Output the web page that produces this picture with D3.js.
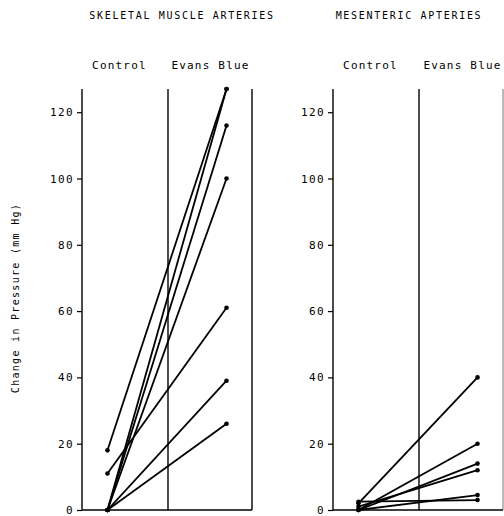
<!DOCTYPE html>
<html>
<head>
<meta charset="utf-8">
<script src="https://cdn.jsdelivr.net/npm/d3@7"></script>
<style>
  body { margin: 0; background: #fff; }
  svg text { font-family: "DejaVu Sans Mono", "Liberation Mono", monospace; fill: #000; }
</style>
</head>
<body>
<svg id="chart" width="504" height="516"></svg>
<script>
// ---- data ----
const groups = ["Control", "Evans Blue"];
const panelTitles = ["SKELETAL MUSCLE ARTERIES", "MESENTERIC APTERIES"];
const yTicks = [0, 20, 40, 60, 80, 100, 120];
const yLabel = "Change in Pressure (mm Hg)";

// skeletal muscle arteries: control -> Evans Blue
const skeletalControl = [18, 0, 0, 0, 11, 0, 0];
const skeletalEvans   = [127, 127, 116, 100, 61, 39, 26];

// mesenteric arteries: control -> Evans Blue
const mesentericControl = [2, 0, 0, 1, 0, 2.5];
const mesentericEvans   = [40, 20, 14, 12, 4.5, 3];

const panels = [
  { title: panelTitles[0], control: skeletalControl, evans: skeletalEvans },
  { title: panelTitles[1], control: mesentericControl, evans: mesentericEvans }
];

// ---- layout ----
const svg = d3.select("#chart");
const panelX = [82, 333];
const panelW = 170;
const y = d3.scaleLinear().domain([0, 127]).range([510, 89]);

panels.forEach((p, i) => {
  const x0 = panelX[i];
  const x = d3.scalePoint().domain(groups).range([x0, x0 + panelW]).padding(0.214);
  const g = svg.append("g");

  // title
  g.append("text")
    .attr("x", x0 + (i === 0 ? 100 : 76))
    .attr("y", 19)
    .attr("text-anchor", "middle")
    .attr("font-size", 10)
    .attr("letter-spacing", 1.7)
    .text(p.title);

  // group headers
  groups.forEach((gr, j) => {
    g.append("text")
      .attr("x", x(gr) + (j === 0 ? 12 : -16) + (i === 1 && j === 1 ? 1 : 0))
      .attr("y", 69)
      .attr("text-anchor", "middle")
      .attr("font-size", 11)
      .attr("letter-spacing", 1.2)
      .text(gr);
  });

  // y axis
  const axis = d3.axisLeft(y).tickValues(yTicks).tickSize(5).tickPadding(3).tickFormat(d3.format("d"));
  const ag = g.append("g").attr("transform", `translate(${x0},0)`).call(axis);
  ag.select(".domain").remove();
  ag.selectAll(".tick line").attr("stroke", "#000").attr("stroke-width", 1.2);
  ag.selectAll(".tick text")
    .attr("font-family", "DejaVu Sans Mono, monospace")
    .attr("font-size", 11)
    .attr("letter-spacing", 1.4)
    .attr("fill", "#000");

  // frame lines
  const mid = (x(groups[0]) + x(groups[1])) / 2 + 1;
  const frame = [
    [x0, y(127), x0, y(0)],
    [mid, y(127), mid, y(0)],
    [x0 + panelW, y(127), x0 + panelW, y(0)],
    [x0, y(0), x0 + panelW, y(0)]
  ];
  g.selectAll("line.frame").data(frame).join("line")
    .attr("class", "frame")
    .attr("x1", d => d[0]).attr("y1", d => d[1])
    .attr("x2", d => d[2]).attr("y2", d => d[3])
    .attr("stroke", "#000")
    .attr("stroke-width", (d, k) => (i === 1 && k === 2) ? 1 : 1.4)
    .attr("stroke-opacity", (d, k) => (i === 1 && k === 2) ? 0.55 : 1);

  // data lines
  const pairs = p.control.map((c, k) => ({ c, e: p.evans[k] }));
  g.selectAll("line.data").data(pairs).join("line")
    .attr("class", "data")
    .attr("x1", x(groups[0])).attr("y1", d => y(d.c))
    .attr("x2", x(groups[1])).attr("y2", d => y(d.e))
    .attr("stroke", "#000")
    .attr("stroke-width", 1.8);

  // dots
  const pts = [];
  pairs.forEach(d => { pts.push([groups[0], d.c]); pts.push([groups[1], d.e]); });
  g.selectAll("circle").data(pts).join("circle")
    .attr("cx", d => x(d[0]))
    .attr("cy", d => y(d[1]))
    .attr("r", 2.3)
    .attr("fill", "#000");
});

// y axis label
svg.append("text")
  .attr("transform", "translate(19,298) rotate(-90)")
  .attr("text-anchor", "middle")
  .attr("font-size", 10)
  .attr("letter-spacing", 1.3)
  .text(yLabel);
</script>
</body>
</html>
